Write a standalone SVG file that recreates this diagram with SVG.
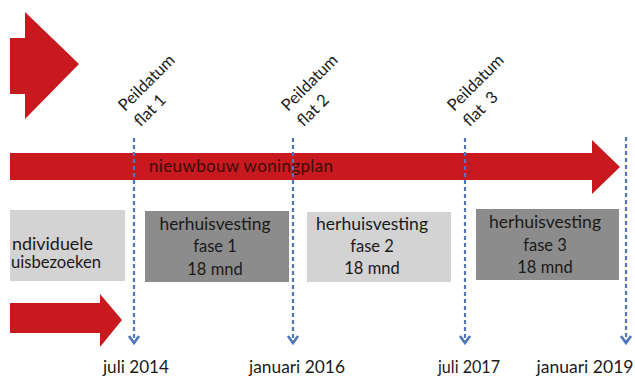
<svg xmlns="http://www.w3.org/2000/svg" width="635" height="378" viewBox="0 0 635 378">
<style>
  .red { fill: #c8191f; }
  .box-light { fill: #d3d3d3; }
  .box-dark { fill: #8c8c8c; }
  .t { font-family: Lato, "Open Sans", "Liberation Sans", sans-serif; font-size: 16.5px; fill: #1a1a1a; }
  .c { text-anchor: middle; }
  .date { font-family: Lato, "Open Sans", "Liberation Sans", sans-serif; font-size: 17.5px; fill: #1a1a1a; text-anchor: middle; }
  .dash { stroke: #4f76b8; stroke-width: 2.2; stroke-dasharray: 4 3; fill: none; }
  .rot2 { transform: translate(288px, 112px) rotate(-45deg); }
</style>
<defs>
  <marker id="chev" markerUnits="userSpaceOnUse" markerWidth="12" markerHeight="12" refX="0" refY="0" orient="auto" overflow="visible">
    <path d="M-7,-5 L0,0 L-7,5" fill="none" stroke="#4f76b8" stroke-width="2.6"/>
  </marker>
</defs>
<rect width="635" height="378" fill="#ffffff"/>

<g id="arrow-top-left">
  <polygon class="red" points="10,38 25,38 25,12 79,64 25,119 25,94 10,94"/>
</g>

<g id="woningplan">
  <polygon class="red" points="10,153 592,153 592,140 620,167 592,194 592,180 10,180"/>
  <text class="t" x="149" y="172" style="fill:#3a0c0c;font-size:17px" textLength="184" lengthAdjust="spacing">nieuwbouw woningplan</text>
</g>

<g id="connectors">
  <line class="dash" x1="134" y1="138" x2="134" y2="343" marker-end="url(#chev)"/>
  <line class="dash" x1="293" y1="138" x2="293" y2="343" marker-end="url(#chev)"/>
  <line class="dash" x1="465" y1="138" x2="465" y2="343" marker-end="url(#chev)"/>
  <line class="dash" x1="626" y1="137" x2="626" y2="343" marker-end="url(#chev)"/>
</g>

<g id="label-flat1" transform="matrix(0.7071 -0.7071 0.7071 0.7071 125 112)">
  <text class="t" x="0" y="0">Peildatum</text>
  <text class="t" x="0" y="22">flat 1</text>
</g>
<g id="label-flat2" class="rot2">
  <text class="t" x="0" y="0">Peildatum</text>
  <text class="t" x="0" y="22">flat 2</text>
</g>
<g id="label-flat3" transform="translate(454 112)">
  <g transform="rotate(-45)">
    <text class="t" x="0" y="0">Peildatum</text>
    <text class="t" x="0" y="22">flat <tspan dx="4">3</tspan></text>
  </g>
</g>

<g id="box-huisbezoeken">
  <rect class="box-light" x="10" y="210" width="115" height="71"/>
  <text class="t" x="12" y="250" textLength="81" lengthAdjust="spacingAndGlyphs">ndividuele</text>
  <text class="t" x="11" y="268" textLength="90" lengthAdjust="spacingAndGlyphs">uisbezoeken</text>
</g>

<g id="box-fase1">
  <rect class="box-dark" x="145" y="211" width="144" height="71"/>
  <text class="t c" x="215" y="230" textLength="111" lengthAdjust="spacingAndGlyphs">herhuisvesting</text>
  <text class="t c" x="215" y="252">fase 1</text>
  <text class="t c" x="215" y="275">18 mnd</text>
</g>

<g id="box-fase2">
  <rect class="box-light" x="307" y="212" width="144" height="70"/>
  <text class="t c" x="372" y="230" textLength="112" lengthAdjust="spacingAndGlyphs">herhuisvesting</text>
  <text class="t c" x="372" y="252">fase 2</text>
  <text class="t c" x="372" y="274">18 mnd</text>
</g>

<g id="box-fase3">
  <rect class="box-dark" x="476" y="209" width="143" height="71"/>
  <text class="t c" x="545" y="228" textLength="112" lengthAdjust="spacingAndGlyphs">herhuisvesting</text>
  <text class="t c" x="545" y="251">fase 3</text>
  <text class="t c" x="545" y="273">18 mnd</text>
</g>

<g id="arrow-bottom-left">
  <polygon class="red" points="10,303 100,303 100,294 122,320 100,347 100,333 10,333"/>
</g>

<g id="dates">
  <text class="date" x="136" y="373" textLength="66" lengthAdjust="spacingAndGlyphs">juli 2014</text>
  <text class="date" x="297" y="373" textLength="96" lengthAdjust="spacingAndGlyphs">januari 2016</text>
  <text class="date" x="469" y="373" textLength="62" lengthAdjust="spacingAndGlyphs">juli 2017</text>
  <text class="date" x="585" y="373" textLength="97" lengthAdjust="spacingAndGlyphs">januari 2019</text>
</g>
</svg>
